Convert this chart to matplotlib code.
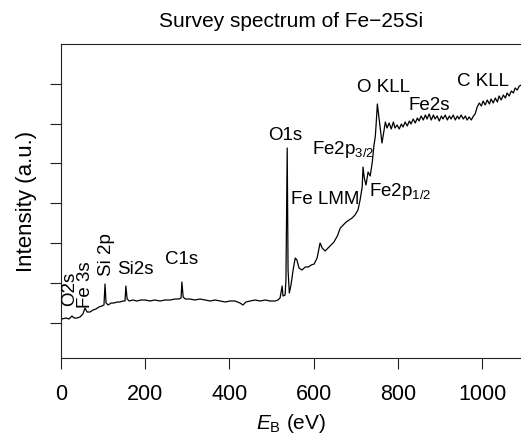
import matplotlib
matplotlib.use('Agg')
import matplotlib.pyplot as plt

plt.rcParams['font.family'] = ['Liberation Sans', 'DejaVu Sans']
plt.rcParams['mathtext.fontset'] = 'custom'
plt.rcParams['mathtext.rm'] = 'Liberation Sans'
plt.rcParams['mathtext.it'] = 'Liberation Sans:italic'

# binding energy (eV) and intensity (a.u.)
energy = [2, 12, 19, 26, 31, 38, 45, 52, 57, 62, 69, 76, 83, 90, 97, 102, 104.5, 107,
          112, 119, 126, 133, 140, 147, 152, 154, 157, 162, 171, 180, 190, 200, 211,
          223, 235, 247, 259, 271, 280, 285, 287, 290, 295, 306, 318, 330, 342, 354,
          366, 378, 390, 401, 413, 425, 432, 439, 449, 461, 473, 485, 496, 508, 515,
          520, 525, 527, 532, 534, 537, 539, 542, 546, 551, 556, 560, 565, 572, 580,
          587, 594, 601, 608, 615, 620, 627, 634, 641, 648, 656, 663, 670, 677, 684,
          691, 698, 705, 710, 715, 717, 720, 724, 729, 734, 739, 743, 746, 748, 751,
          755, 760, 762, 765, 770, 774, 779, 784, 789, 793, 798, 803, 808, 812, 817,
          822, 827, 831, 836, 841, 846, 850, 855, 860, 865, 869, 874, 879, 884, 888,
          893, 898, 903, 907, 912, 917, 922, 926, 931, 936, 941, 945, 950, 955, 960,
          964, 969, 974, 979, 983, 988, 993, 998, 1002, 1007, 1012, 1017, 1021, 1026,
          1031, 1036, 1040, 1045, 1050, 1055, 1059, 1064, 1069, 1074, 1078, 1083,
          1088, 1093]
intensity = [39, 40, 39, 42, 40, 40, 41, 44, 50, 46, 46, 48, 49, 51, 52, 53, 74, 55,
             53, 55, 55, 56, 56, 57, 57, 72, 59, 57, 58, 57, 58, 58, 57, 58, 57, 58,
             58, 59, 59, 60, 76, 61, 59, 59, 58, 59, 58, 57, 58, 57, 56, 57, 57, 55,
             53, 56, 57, 58, 57, 58, 57, 57, 58, 60, 72, 62, 63, 78, 210, 88, 65, 73,
             88, 100, 98, 90, 88, 91, 91, 93, 94, 100, 115, 110, 107, 110, 113, 116,
             122, 130, 133, 136, 138, 140, 143, 148, 158, 171, 191, 180, 173, 186, 182,
             196, 213, 221, 233, 254, 240, 223, 215, 223, 236, 230, 235, 229, 236, 230,
             233, 229, 234, 231, 236, 232, 237, 234, 239, 235, 240, 237, 242, 238, 243,
             239, 244, 238, 243, 239, 242, 237, 242, 239, 243, 238, 242, 239, 243, 238,
             242, 239, 243, 239, 242, 238, 241, 238, 242, 244, 251, 255, 252, 257, 253,
             258, 254, 259, 255, 260, 256, 262, 258, 263, 260, 265, 262, 267, 265, 270,
             268, 272, 273]

# peak labels: text, energy, intensity, rotation
peak_labels = [
    ('O2s', 21, 69, 90),
    ('Fe 3s', 59, 73, 90),
    ('Si 2p', 107, 103, 90),
    ('Si2s', 133, 89, 0),
    ('C1s', 247, 99, 0),
    ('O1s', 492, 223, 0),
    ('Fe LMM', 546, 159, 0),
    ('Fe2p$_{3/2}$', 596, 208, 0),
    ('Fe2p$_{1/2}$', 732, 166, 0),
    ('O KLL', 703, 270, 0),
    ('Fe2s', 824, 252, 0),
    ('C KLL', 941, 276, 0),
]

fig = plt.figure(figsize=(5.21, 4.37), dpi=100)
ax = fig.add_axes([61 / 521, 79 / 437, 460 / 521, 314 / 437])

ax.plot(energy, intensity, color='black', linewidth=0.9)

for label, e, inten, rot in peak_labels:
    if rot == 90:
        ax.text(e, inten, label, rotation=90, ha='center', va='center', fontsize=13.5)
    else:
        ax.text(e, inten, label, ha='left', va='center', fontsize=13.5)

ax.set_xlim(0, 1092)
ax.set_ylim(0, 314)
ax.set_xticks([0, 200, 400, 600, 800, 1000])
ax.set_yticks([35, 75, 115, 155, 195, 234, 274])
ax.set_yticklabels([])
ax.tick_params(axis='both', direction='out', length=8, width=0.8, color='#222222')
ax.tick_params(axis='x', labelsize=15.5, pad=11)
ax.spines['right'].set_visible(False)
for s in ['left', 'bottom', 'top']:
    ax.spines[s].set_linewidth(0.8)
    ax.spines[s].set_color('#222222')

ax.set_xlabel('$E_\\mathrm{B}$ (eV)', fontsize=15, labelpad=5)
ax.set_ylabel('Intensity (a.u.)', fontsize=16, labelpad=6)
ax.set_title('Survey spectrum of Fe\u221225Si', fontsize=15, pad=12)

plt.savefig('out.png', dpi=100)
